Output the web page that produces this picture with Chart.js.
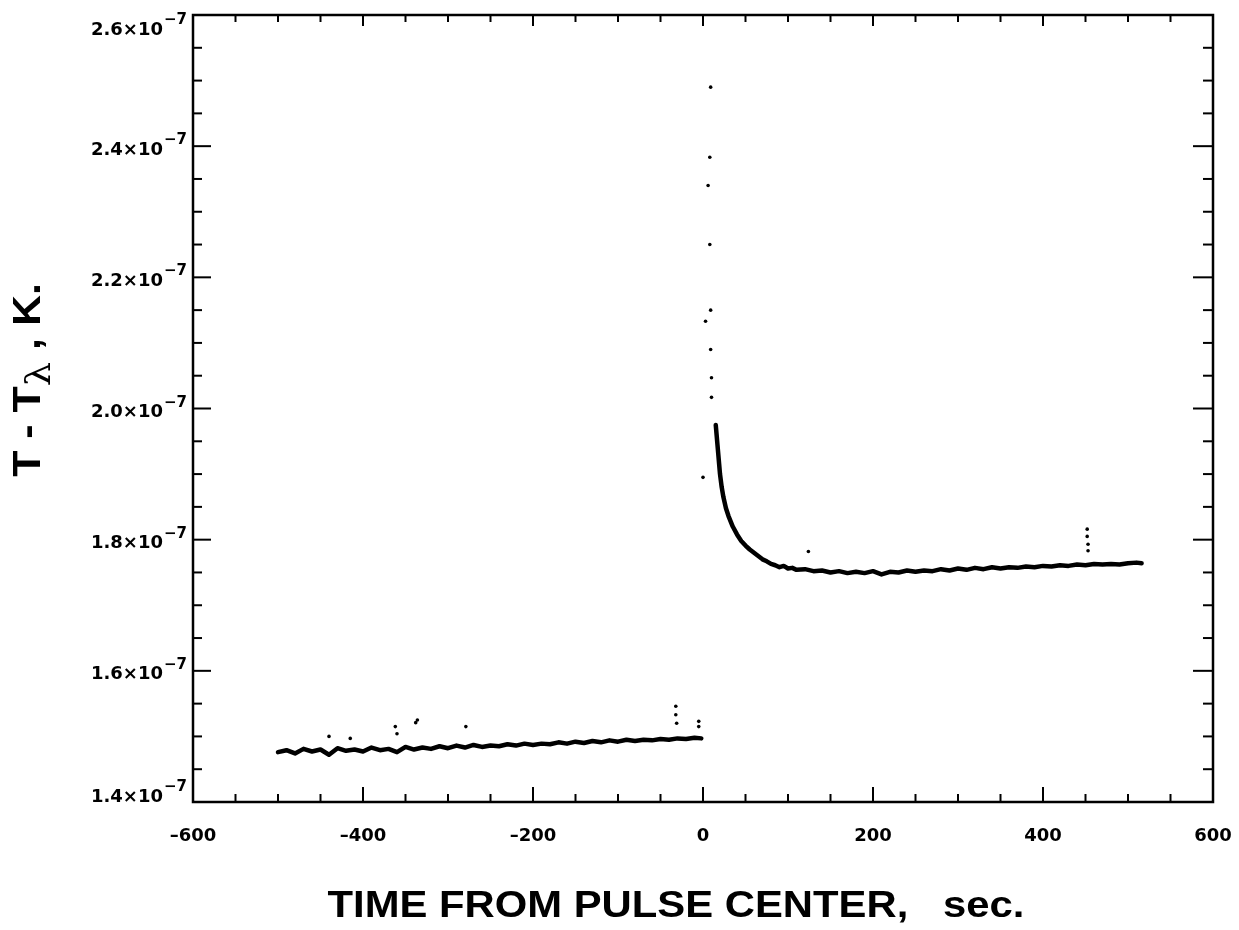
<!DOCTYPE html>
<html>
<head>
<meta charset="utf-8">
<title>T - Tλ vs time from pulse center</title>
<script src="https://cdn.jsdelivr.net/npm/chart.js@4.4.1/dist/chart.umd.min.js"></script>
<style>
  html, body { margin: 0; padding: 0; background: #fff; }
  #wrap { width: 1239px; height: 930px; position: relative; }
</style>
</head>
<body>
<div id="wrap"><canvas id="chart"></canvas></div>
<script>
// ============================================
// DATA  (temperatures in units of 1e-7 K)
// ============================================
const beforeTimes = [-500, -490, -480, -470, -460, -450, -440, -430, -420, -410,
    -400, -390, -380, -370, -360, -350, -340, -330, -320, -310,
    -300, -290, -280, -270, -260, -250, -240, -230, -220, -210,
    -200, -190, -180, -170, -160, -150, -140, -130, -120, -110,
    -100, -90, -80, -70, -60, -50, -40, -30, -20, -10, -2];
const beforeValues = [1.476, 1.479, 1.474, 1.481, 1.477, 1.480, 1.472, 1.482, 1.478, 1.480,
    1.477, 1.483, 1.479, 1.481, 1.476, 1.484, 1.480, 1.483, 1.481, 1.485,
    1.482, 1.486, 1.483, 1.487, 1.484, 1.486, 1.485, 1.488, 1.486, 1.489,
    1.487, 1.489, 1.488, 1.491, 1.489, 1.492, 1.490, 1.493, 1.491, 1.494,
    1.492, 1.495, 1.493, 1.495, 1.494, 1.496, 1.495, 1.497, 1.496, 1.498, 1.497];

const afterTimes = [15, 16, 17, 18, 19, 20, 22, 24, 27, 30,
    35, 40, 45, 50, 55, 60, 65, 70, 75, 80,
    85, 90, 95, 100, 105, 110, 120, 130, 140, 150,
    160, 170, 180, 190, 200, 210, 220, 230, 240, 250,
    260, 270, 280, 290, 300, 310, 320, 330, 340, 350,
    360, 370, 380, 390, 400, 410, 420, 430, 440, 450,
    460, 470, 480, 490, 500, 510, 516];
const afterValues = [1.975, 1.960, 1.945, 1.930, 1.915, 1.900, 1.880, 1.865, 1.848, 1.836,
    1.820, 1.808, 1.798, 1.791, 1.785, 1.780, 1.775, 1.770, 1.767, 1.763,
    1.761, 1.758, 1.760, 1.756, 1.757, 1.754, 1.755, 1.752, 1.753, 1.750,
    1.752, 1.749, 1.751, 1.749, 1.752, 1.747, 1.751, 1.750, 1.753, 1.751,
    1.753, 1.752, 1.755, 1.753, 1.756, 1.754, 1.757, 1.755, 1.758, 1.756,
    1.758, 1.757, 1.759, 1.758, 1.760, 1.759, 1.761, 1.760, 1.762, 1.761,
    1.763, 1.762, 1.763, 1.762, 1.764, 1.765, 1.764];

// isolated readings away from the smooth traces
const strayTimes = [-440, -415, -362, -360, -336, -338, -279, -32, -32, -31, -5, -5,
    0, 3, 6, 8, 8, 9, 9, 9, 10, 10, 124, 452, 452, 453, 453];
const strayValues = [1.500, 1.497, 1.515, 1.504, 1.525, 1.521, 1.515, 1.546, 1.533, 1.520, 1.523, 1.515,
    1.895, 2.133, 2.340, 2.383, 2.250, 2.490, 2.150, 2.090, 2.047, 2.017, 1.782, 1.816, 1.805, 1.793, 1.783];

const xTickLabels = [-600, -400, -200, 0, 200, 400, 600];
const yTickLabels = [1.4, 1.6, 1.8, 2.0, 2.2, 2.4, 2.6];
const xMinorStep = 50;
const yMinorStep = 0.05;

function toPoints(xs, ys) {
    return xs.map((x, i) => ({ x: x, y: ys[i] }));
}

// ============================================
// FRAME, INWARD TICKS, LABELS
// ============================================
const framePlugin = {
    id: 'frame',
    afterDraw(chart) {
        const { ctx, chartArea: a, scales: { x, y } } = chart;
        ctx.save();
        ctx.strokeStyle = '#000';
        ctx.fillStyle = '#000';
        ctx.lineCap = 'butt';

        function line(x1, y1, x2, y2) {
            ctx.beginPath();
            ctx.moveTo(x1, y1);
            ctx.lineTo(x2, y2);
            ctx.stroke();
        }

        ctx.lineWidth = 2.5;
        ctx.strokeRect(a.left, a.top, a.right - a.left, a.bottom - a.top);

        // x ticks, bottom and top
        ctx.lineWidth = 2;
        const nx = Math.round((x.max - x.min) / xMinorStep);
        for (let i = 0; i <= nx; i++) {
            const v = x.min + i * xMinorStep;
            const px = x.getPixelForValue(v);
            const major = xTickLabels.includes(v);
            line(px, a.bottom, px, a.bottom - (major ? 15 : 8));
            line(px, a.top, px, a.top + (major ? 11 : 7));
        }

        // y ticks, left and right
        const ny = Math.round((y.max - y.min) / yMinorStep);
        for (let i = 0; i <= ny; i++) {
            const v = y.min + i * yMinorStep;
            const py = y.getPixelForValue(v);
            const major = i % 4 === 0;
            line(a.left, py, a.left + (major ? 18 : 9), py);
            line(a.right, py, a.right - (major ? 20 : 10), py);
        }

        // x tick labels
        ctx.font = 'bold 18px "DejaVu Sans"';
        ctx.textAlign = 'center';
        ctx.textBaseline = 'middle';
        xTickLabels.forEach(v => {
            const txt = v < 0 ? '\u2013' + Math.abs(v) : String(v);
            ctx.fillText(txt, x.getPixelForValue(v), a.bottom + 34);
        });

        // y tick labels with superscript exponent
        ctx.textBaseline = 'alphabetic';
        yTickLabels.forEach(v => {
            const py = y.getPixelForValue(v);
            const cy = Math.min(Math.max(py + 2, a.top + 13), a.bottom - 7);
            ctx.font = 'bold 18px "DejaVu Sans"';
            ctx.textAlign = 'right';
            ctx.fillText(v.toFixed(1) + '\u00d710', a.left - 30, cy + 6.5);
            ctx.font = 'bold 15px "DejaVu Sans"';
            ctx.textAlign = 'left';
            ctx.fillText('\u22127', a.left - 29, cy - 4);
        });

        // x axis title
        ctx.save();
        ctx.font = 'bold 37px "Liberation Sans"';
        ctx.textAlign = 'center';
        ctx.translate(676, 917);
        ctx.scale(1.13, 1);
        ctx.fillText('TIME FROM PULSE CENTER,   sec.', 0, 0);
        ctx.restore();

        // y axis title: T - T(lambda) , K.
        ctx.save();
        ctx.translate(40, 380);
        ctx.rotate(-Math.PI / 2);
        ctx.scale(1.13, 1);
        ctx.textAlign = 'left';
        const bold = 'bold 38px "Liberation Sans"';
        const sub = '34px "DejaVu Serif"';
        ctx.font = bold;
        const w1 = ctx.measureText('T - T').width;
        const w3 = ctx.measureText(' , K.').width;
        ctx.font = sub;
        const w2 = ctx.measureText('\u03bb').width;
        let sx = -(w1 + w2 + w3) / 2;
        ctx.font = bold;
        ctx.fillText('T - T', sx, 0);
        sx += w1;
        ctx.font = sub;
        ctx.fillText('\u03bb', sx, 10);
        sx += w2;
        ctx.font = bold;
        ctx.fillText(' , K.', sx, 0);
        ctx.restore();

        ctx.restore();
    }
};

// ============================================
// CHART
// ============================================
const lineStyle = {
    showLine: true,
    borderColor: '#000',
    borderWidth: 4.5,
    borderJoinStyle: 'round',
    borderCapStyle: 'round',
    pointRadius: 0,
    tension: 0
};

new Chart(document.getElementById('chart'), {
    type: 'scatter',
    data: {
        datasets: [
            Object.assign({ label: 'before pulse', data: toPoints(beforeTimes, beforeValues) }, lineStyle),
            Object.assign({ label: 'after pulse', data: toPoints(afterTimes, afterValues) }, lineStyle),
            {
                label: 'stray',
                data: toPoints(strayTimes, strayValues),
                showLine: false,
                pointRadius: 1.8,
                pointBorderWidth: 0,
                backgroundColor: '#000'
            }
        ]
    },
    options: {
        responsive: true,
        maintainAspectRatio: false,
        animation: false,
        layout: { padding: { left: 193, right: 26, top: 15, bottom: 128 } },
        plugins: {
            legend: { display: false },
            tooltip: { enabled: false }
        },
        scales: {
            x: { type: 'linear', display: false, min: -600, max: 600 },
            y: { type: 'linear', display: false, min: 1.4, max: 2.6 }
        }
    },
    plugins: [framePlugin]
});
</script>
</body>
</html>
